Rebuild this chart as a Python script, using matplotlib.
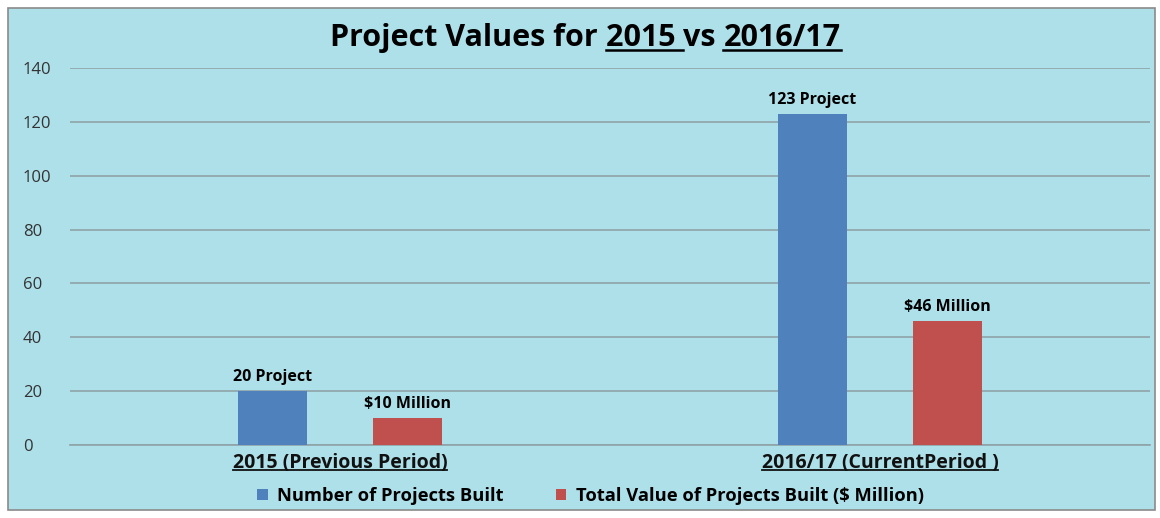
import numpy as np
import matplotlib
matplotlib.use('Agg')
import matplotlib.pyplot as plt
from matplotlib.patches import Rectangle
from matplotlib.lines import Line2D

# Data
periods = ['2015 (Previous Period)', '2016/17 (CurrentPeriod )']
num_projects = [20, 123]
total_value = [10, 46]
num_labels = ['20 Project', '123 Project']
value_labels = ['$10 Million', '$46 Million']
series_names = ['Number of Projects Built', 'Total Value of Projects Built ($ Million)']
yticks = [0, 20, 40, 60, 80, 100, 120, 140]

blue = '#4f81bd'
red = '#c0504d'
bg = '#aee0ea'

plt.rcParams['font.family'] = ['Open Sans', 'DejaVu Sans']

W, H = 1160, 518
fig = plt.figure(figsize=(W / 100, H / 100), dpi=100, facecolor='white')

# textured-looking panel approximated with a solid light blue
fig.patches.append(Rectangle((8 / W, 1 - 510 / H), (1155 - 8) / W, (510 - 8) / H,
                             transform=fig.transFigure, facecolor=bg,
                             edgecolor='#8a8a8a', linewidth=1.2, zorder=-5))

ax = fig.add_axes([70 / W, 1 - 445 / H, (1150 - 70) / W, (445 - 68) / H])
ax.set_facecolor('none')

x = np.arange(len(periods))
width = 0.126
b1 = ax.bar(x - 0.125, num_projects, width, color=blue, label=series_names[0], zorder=3)
b2 = ax.bar(x + 0.125, total_value, width, color=red, label=series_names[1], zorder=3)

for rect, lab in zip(b1, num_labels):
    ax.text(rect.get_x() + rect.get_width() / 2, rect.get_height() + 2.3, lab,
            ha='center', va='bottom', fontsize=11.5, fontweight='bold')
for rect, lab in zip(b2, value_labels):
    ax.text(rect.get_x() + rect.get_width() / 2, rect.get_height() + 2.3, lab,
            ha='center', va='bottom', fontsize=11.5, fontweight='bold')

ax.set_xlim(-0.5, 1.5)
ax.set_ylim(0, 140)
ax.set_yticks(yticks)
ax.yaxis.grid(True, color='#8fa3a8', linewidth=1.2, zorder=0)
ax.set_axisbelow(True)
for s in ['left', 'right', 'top']:
    ax.spines[s].set_visible(False)
ax.spines['bottom'].set_color('#8fa3a8')
ax.spines['bottom'].set_linewidth(1.2)
ax.tick_params(axis='y', length=0, labelsize=12, labelcolor='#333333', pad=34)
for t in ax.get_yticklabels():
    t.set_horizontalalignment('left')
ax.set_xticks(x)
ax.set_xticklabels(periods, fontsize=14, fontweight='bold', color='#111111')
ax.tick_params(axis='x', length=0, pad=6)

leg = ax.legend(loc='center', bbox_to_anchor=(0.482, -0.135), ncol=2, frameon=False,
                prop={'weight': 'bold', 'size': 13.2}, handlelength=0.55, handleheight=0.55,
                columnspacing=2.9, handletextpad=0.5)

# title made of pieces so parts can be underlined
tkw = dict(fontsize=22, fontweight='bold', color='black', va='baseline')
t1 = fig.text(330 / W, 1 - 46 / H, 'Project Values for ', ha='left', **tkw)
t2 = fig.text(0, 0, '2015 ', ha='left', **tkw)
t3 = fig.text(0, 0, 'vs ', ha='left', **tkw)
t4 = fig.text(0, 0, '2016/17', ha='left', **tkw)

fig.canvas.draw()
r = fig.canvas.get_renderer()
inv = fig.transFigure.inverted()
prev = t1
for t in [t2, t3, t4]:
    bb = prev.get_window_extent(r)
    xf, _ = inv.transform((bb.x1, bb.y0))
    t.set_position((xf, t1.get_position()[1]))
    fig.canvas.draw()
    prev = t


def underline(t, dy=4, lw=1.8):
    bb = t.get_window_extent(r)
    _, ybase = fig.transFigure.transform(t.get_position())
    y = ybase - dy
    (x0, y0) = inv.transform((bb.x0, y))
    (x1, _) = inv.transform((bb.x1, y))
    fig.lines.append(Line2D([x0, x1], [y0, y0], transform=fig.transFigure,
                            color='black', linewidth=lw))


fig.canvas.draw()
underline(t2)
underline(t4)

# underline the x tick labels
for t in ax.get_xticklabels():
    bb = t.get_window_extent(r)
    y = bb.y0 + 3
    (x0, y0) = inv.transform((bb.x0, y))
    (x1, _) = inv.transform((bb.x1, y))
    fig.lines.append(Line2D([x0, x1], [y0, y0], transform=fig.transFigure,
                            color='#111111', linewidth=1.3))

fig.savefig('out.png', dpi=100, facecolor=fig.get_facecolor())
